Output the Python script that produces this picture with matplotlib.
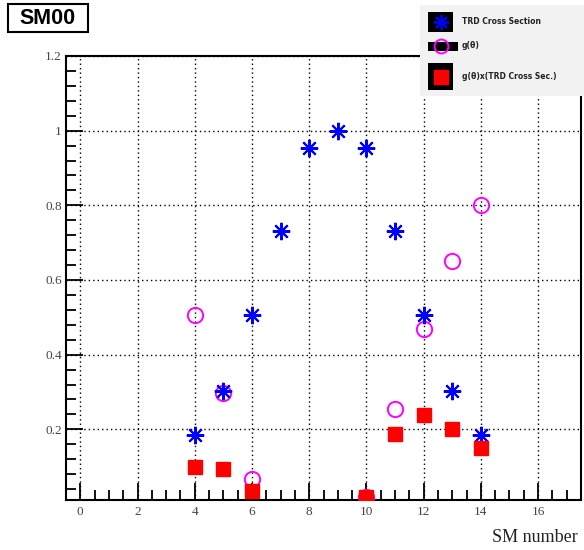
import numpy as np
import matplotlib
matplotlib.use("Agg")
import matplotlib.pyplot as plt
from matplotlib.patches import Rectangle
from matplotlib.ticker import MultipleLocator

# ── Data ─────────────────────────────────────────────────────────────────────
sm_trd = [4, 5, 6, 7, 8, 9, 10, 11, 12, 13, 14]
trd_xsec = [0.184, 0.302, 0.506, 0.73, 0.953, 1.0, 0.953, 0.73, 0.506, 0.302, 0.184]

sm_g = [4, 5, 6, 10, 11, 12, 13, 14]
g_theta = [0.506, 0.298, 0.067, 0.02, 0.254, 0.468, 0.65, 0.80]

sm_prod = [4, 5, 6, 10, 11, 12, 13, 14]
g_x_trd = [0.099, 0.095, 0.034, 0.018, 0.187, 0.238, 0.200, 0.150]

labels = ["TRD Cross Section", "g(θ)", "g(θ)x(TRD Cross Sec.)"]

BLUE, MAG, RED = "#0000ff", "#ff00ff", "#ff0000"
STAR = (8, 2, 0)

# ── Figure ───────────────────────────────────────────────────────────────────
fig = plt.figure(figsize=(5.84, 5.5), dpi=100)
ax = fig.add_axes([66 / 584, 1 - 499.5 / 550, (581 - 66) / 584, (499.5 - 56) / 550])

ax.plot(sm_g, g_theta, ls="none", marker="o", ms=11, mfc="none", mec=MAG, mew=1.4, zorder=3)
ax.plot(sm_trd, trd_xsec, ls="none", marker=STAR, ms=12.5, mec=BLUE, mfc=BLUE, mew=1.5, zorder=4)
ax.plot(sm_prod, g_x_trd, ls="none", marker="s", ms=9.5, mfc=RED, mec=RED, zorder=5)

ax.set_xlim(-0.5, 17.5)
ax.set_ylim(0.012, 1.2)
ax.xaxis.set_major_locator(MultipleLocator(2))
ax.xaxis.set_minor_locator(MultipleLocator(0.5))
ax.yaxis.set_minor_locator(MultipleLocator(0.04))
ax.set_yticks([0.2, 0.4, 0.6, 0.8, 1.0, 1.2])
ax.set_yticklabels(["0.2", "0.4", "0.6", "0.8", "1", "1.2"])
ax.grid(True, which="major", ls=(0, (1, 2.2)), color="black", lw=1.0)
ax.tick_params(which="both", direction="in", top=False, right=False,
               labelsize=9.5, labelcolor="#444444", width=1.3)
ax.tick_params(axis="x", which="major", pad=5)
ax.tick_params(axis="y", which="major", pad=3)
ax.tick_params(which="major", length=12)
ax.tick_params(which="minor", length=7)
for lab in ax.get_xticklabels() + ax.get_yticklabels():
    lab.set_family("Liberation Serif")
for s in ax.spines.values():
    s.set_linewidth(1.5)

fig.text(578 / 584, 1 - 537 / 550, "SM number", ha="right", va="center",
         family="Liberation Serif", fontsize=13, color="#222222")

# title box
fig.patches.append(Rectangle((8 / 584, 1 - 32 / 550), 80 / 584, 28 / 550,
                             transform=fig.transFigure, fc="white", ec="black", lw=1.5))
fig.text(48 / 584, 1 - 18 / 550, "SM00", ha="center", va="center",
         family="Liberation Sans", fontweight="bold", fontsize=15.5)

# ── Legend (ROOT-style) ──────────────────────────────────────────────────────
lg = fig.add_axes([420 / 584, 1 - 96 / 550, 164 / 584, 91 / 550])
lg.set_xlim(420, 584)
lg.set_ylim(96, 5)
lg.axis("off")
lg.add_patch(Rectangle((420, 5), 164, 91, fc="#f2f2f2", ec="none"))
lg.add_patch(Rectangle((428, 12), 25, 20, fc="black", ec="none"))
lg.plot([440.5], [22], marker=STAR, ms=11, mec=BLUE, mfc=BLUE, mew=1.3)
lg.add_patch(Rectangle((428, 42), 30, 9, fc="black", ec="none"))
lg.plot([440.5], [46], marker="o", ms=10, mfc="none", mec=MAG, mew=1.4)
lg.add_patch(Rectangle((428, 63), 25, 27, fc="black", ec="none"))
lg.plot([440.5], [76.5], marker="s", ms=9.5, mfc=RED, mec=RED)
for yy, txt in zip([22, 46, 76.5], labels):
    lg.text(462, yy, txt, ha="left", va="center", fontsize=5.5,
            fontweight="bold", color="#222222", family="DejaVu Sans")

fig.savefig("out.png", dpi=100)
